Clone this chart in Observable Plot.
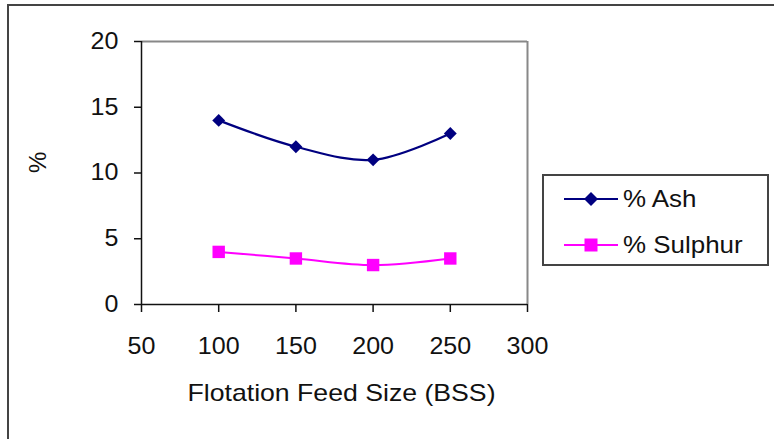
<!DOCTYPE html>
<html>
<head>
<meta charset="utf-8">
<script src="https://cdn.jsdelivr.net/npm/d3@7"></script>
<script src="https://cdn.jsdelivr.net/npm/@observablehq/plot@0.6"></script>
<style>
  html, body { margin: 0; padding: 0; background: #fff; }
  #wrap { position: relative; width: 774px; height: 439px; overflow: hidden; font-family: "Liberation Sans", Arial, sans-serif; }
  #outer { position: absolute; left: 7px; top: 4px; width: 800px; height: 480px; border-left: 2px solid #444; border-top: 2px solid #444; box-sizing: border-box; pointer-events: none; }
  #legend { position: absolute; left: 542px; top: 174px; width: 227px; height: 92px; border: 2px solid #444; box-sizing: border-box; background: #fff; }
  .row { position: absolute; left: 20px; height: 30px; display: flex; align-items: center; font-size: 24px; color: #111; white-space: nowrap; }
  .row svg { margin-right: 5px; flex: none; }
  .row span { display: inline-block; transform: scaleX(1.08); transform-origin: left center; }
</style>
</head>
<body>
<div id="wrap">
  <div id="chart"></div>
  <div id="outer"></div>
  <div id="legend"></div>
</div>
<script>
const feedSize = [100, 150, 200, 250];
const ashPct = [14, 12, 11, 13];
const sulphurPct = [4, 3.5, 3, 3.5];
const seriesNames = ["% Ash", "% Sulphur"];
const seriesColors = ["#000080", "#FF00FF"];
const xTicks = [50, 100, 150, 200, 250, 300];
const yTicks = [0, 5, 10, 15, 20];

const ash = feedSize.map((x, i) => ({x, y: ashPct[i]}));
const sul = feedSize.map((x, i) => ({x, y: sulphurPct[i]}));

const chart = Plot.plot({
  width: 774,
  height: 439,
  marginLeft: 141,
  marginRight: 247,
  marginTop: 41,
  marginBottom: 135,
  style: { fontFamily: "Liberation Sans, Arial, sans-serif", fontSize: "23px", color: "#111", background: "#fff" },
  x: { domain: [50, 300] },
  y: { domain: [0, 20] },
  marks: [
    Plot.ruleY([20], { stroke: "#888", strokeWidth: 2 }),
    Plot.ruleX([300], { stroke: "#888", strokeWidth: 2 }),
    Plot.axisX({ ticks: xTicks, tickSize: 8, tickPadding: 25, label: null, stroke: "#111", strokeWidth: 1.5, fontSize: 23 }),
    Plot.axisY({ ticks: yTicks, tickSize: 7, tickPadding: 16, label: null, stroke: "#111", strokeWidth: 1.5, fontSize: 23 }),
    Plot.ruleX([50], { stroke: "#111", strokeWidth: 1.5 }),
    Plot.ruleY([0], { stroke: "#111", strokeWidth: 1.5 }),
    Plot.line(ash, { x: "x", y: "y", stroke: seriesColors[0], strokeWidth: 2.2, curve: "catmull-rom" }),
    Plot.line(sul, { x: "x", y: "y", stroke: seriesColors[1], strokeWidth: 2, curve: "catmull-rom" }),
    Plot.dot(ash, { x: "x", y: "y", symbol: "diamond2", r: 5.8, fill: seriesColors[0], stroke: "none" }),
    Plot.dot(sul, { x: "x", y: "y", symbol: "square", r: 7, fill: seriesColors[1], stroke: "none" }),
    Plot.text(["Flotation Feed Size (BSS)"], { frameAnchor: "bottom", dy: 96, fontSize: 24, fill: "#111", dx: 7 }),
    Plot.text(["%"], { frameAnchor: "left", dx: -103, rotate: -90, fontSize: 24, fill: "#111" })
  ]
});
document.getElementById("chart").appendChild(chart);

// stretch text horizontally to match the reference's wider lettering
chart.querySelectorAll("text").forEach(t => {
  if (t.textContent === "%") return;
  const w = t.getComputedTextLength();
  const k = t.textContent.length > 5 ? 1.11 : 1.09;
  if (w > 0) {
    t.setAttribute("textLength", (w * k).toFixed(1));
    t.setAttribute("lengthAdjust", "spacingAndGlyphs");
  }
});

// legend
const legend = document.getElementById("legend");
const symbols = ["diamond", "square"];
seriesNames.forEach((name, i) => {
  const row = document.createElement("div");
  row.className = "row";
  row.style.top = (i === 0 ? 8 : 54) + "px";
  const w = 54, h = 20;
  let marker;
  if (symbols[i] === "diamond") {
    marker = `<polygon points="${w/2},${h/2-7} ${w/2+7},${h/2} ${w/2},${h/2+7} ${w/2-7},${h/2}" fill="${seriesColors[i]}"/>`;
  } else {
    marker = `<rect x="${w/2-6.5}" y="${h/2-6.5}" width="13" height="13" fill="${seriesColors[i]}"/>`;
  }
  row.innerHTML = `<svg width="${w}" height="${h}"><line x1="0" x2="${w}" y1="${h/2}" y2="${h/2}" stroke="${seriesColors[i]}" stroke-width="2"/>${marker}</svg><span>${name}</span>`;
  legend.appendChild(row);
});
</script>
</body>
</html>
